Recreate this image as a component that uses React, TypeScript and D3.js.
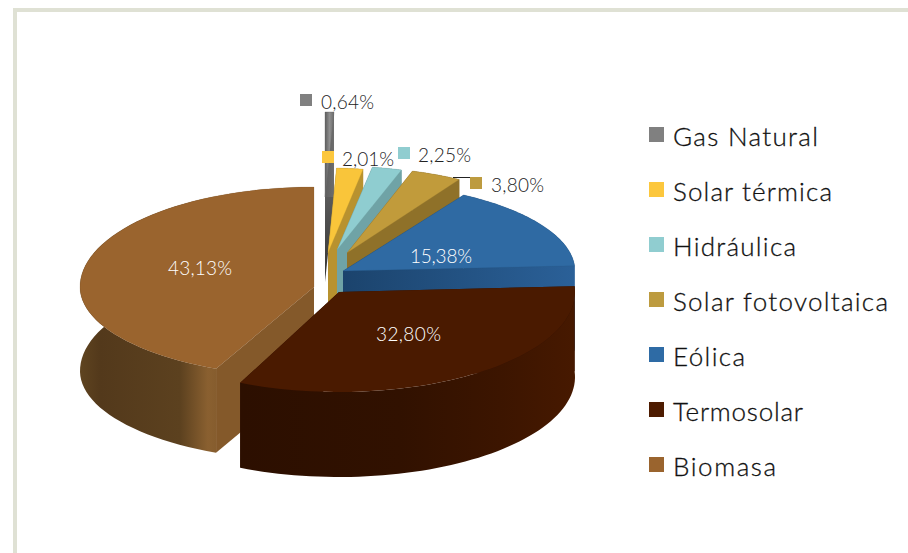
import React from "react";
import * as d3 from "d3";

const categories = ["Gas Natural", "Solar térmica", "Hidráulica", "Solar fotovoltaica", "Eólica", "Termosolar", "Biomasa"];
const shares = [0.64, 2.01, 2.25, 3.8, 15.38, 32.8, 43.13];
const valueLabels = ["0,64%", "2,01%", "2,25%", "3,80%", "15,38%", "32,80%", "43,13%"];

const topColors = ["#8a8a8a", "#f9c53a", "#8fcdd0", "#c19b3b", "#2f6aa3", "#4a1a00", "#9a642e"];
const cutColors = ["#4a4a4a", "#b8922f", "#6fa3a6", "#8f7129", "#1d4a78", "#2e1000", "#84592a"];
const legendColors = ["#808080", "#fcc73d", "#90cdd0", "#bd9b3f", "#2e6ba5", "#4d1b00", "#9a642e"];

// wall shading along x for each slice: [x, colour] stops
const wallStops: [number, string][][] = [
  [[320, "#555555"], [340, "#777777"]],
  [[320, "#b8922f"], [370, "#b8922f"]],
  [[330, "#6fa3a6"], [410, "#6fa3a6"]],
  [[340, "#8f7129"], [470, "#8f7129"]],
  [[340, "#1b436c"], [580, "#2b6199"]],
  [[240, "#2c0f00"], [400, "#311100"], [500, "#3c1500"], [577, "#471900"]],
  [[80, "#5f4420"], [100, "#53391b"], [180, "#5c411f"], [208, "#8a6030"], [240, "#7a5428"]],
];

// geometry of each exploded slice: apex, radius, back / front vertical radius, wall depth
const apexX = [325, 328, 337, 347, 343, 339, 314];
const apexY = [197, 253, 250, 253, 271, 292, 287];
const radius = [224, 212, 213, 216, 232, 236, 234];
const backRy = [85, 85, 84, 86, 89, 100, 100];
const frontRy = [85, 85, 84, 86, 89, 100, 90];
const depth = [85, 85, 85, 85, 85, 85, 84];
const edgeOpacity = [0.6, 0.5, 0.5, 0.5, 0.4, 0, 0.3];
const drawOrder = [0, 1, 2, 3, 4, 6, 5];

const legendWidths = [145, 159, 123, 215, 72, 130, 103];
const legendBaselines = [146, 201, 256, 311, 366, 421, 476];

const labelX = [321, 342, 418, 491, 410, 376, 168];
const labelY = [109, 166, 162, 192, 263, 341, 275];
const labelW = [53, 52, 53, 53, 62, 65, 64];
const labelFill = ["#222", "#222", "#222", "#222", "#fff", "#fff", "#fff"];
const chipX = [300, 322, 398, 470];
const chipY = [94, 151, 147, 177];

const FONT = "Lato, 'Open Sans', sans-serif";

export default function App() {
  const arcs = d3.pie<number>().sort(null).startAngle(0).endAngle(2 * Math.PI)(shares);
  const line = d3.line<[number, number]>().curve(d3.curveLinear);

  const pt = (i: number, a: number, f = 1): [number, number] => {
    const c = Math.cos(a);
    const ry = c > 0 ? backRy[i] : frontRy[i];
    return [apexX[i] + radius[i] * f * Math.sin(a), apexY[i] - ry * f * c];
  };
  const arcPts = (i: number) => {
    const { startAngle: s, endAngle: e } = arcs[i];
    return d3.range(0, 61).map((k) => pt(i, s + ((e - s) * k) / 60));
  };
  const down = (i: number, p: [number, number]): [number, number] => [p[0], p[1] + depth[i]];

  const topPath = (i: number) => line([[apexX[i], apexY[i]], ...arcPts(i)])! + "Z";
  const wallPath = (i: number) => {
    const a = arcPts(i);
    return line([...a, ...a.slice().reverse().map((p) => down(i, p))])! + "Z";
  };
  const cutPath = (i: number, ang: number) => {
    const o: [number, number] = [apexX[i], apexY[i]];
    const e = pt(i, ang);
    return line([o, e, down(i, e), down(i, o)])! + "Z";
  };

  return (
    <svg width={908} height={553} style={{ position: "absolute", left: 0, top: 0, background: "#fff" }}>
      <defs>
        {categories.map((c, i) => {
          const xs = wallStops[i].map((s) => s[0]);
          const x0 = xs[0];
          const x1 = xs[xs.length - 1];
          return (
            <linearGradient key={c} id={`wall${i}`} gradientUnits="userSpaceOnUse" x1={x0} x2={x1} y1={0} y2={0}>
              {wallStops[i].map(([x, col]) => (
                <stop key={x} offset={(x - x0) / (x1 - x0)} stopColor={col} />
              ))}
            </linearGradient>
          );
        })}
        <linearGradient id="gasTop" x1="0" x2="1" y1="0" y2="0">
          <stop offset="0%" stopColor="#5c5c5c" />
          <stop offset="50%" stopColor="#8f8f8f" />
          <stop offset="100%" stopColor="#6a6a6a" />
        </linearGradient>
        <linearGradient id="gasCut" x1="0" x2="0" y1="0" y2="1">
          <stop offset="0%" stopColor="#808080" />
          <stop offset="100%" stopColor="#333333" />
        </linearGradient>
      </defs>

      <rect x={13} y={8} width={4} height={545} fill="#dfe1d4" />
      <rect x={13} y={8} width={895} height={4} fill="#dfe1d4" />

      {drawOrder.map((i) => (
        <g key={categories[i]}>
          <path d={cutPath(i, arcs[i].startAngle)} fill={i === 0 ? "url(#gasCut)" : i === 4 ? "url(#wall4)" : cutColors[i]} />
          <path d={cutPath(i, arcs[i].endAngle)} fill={i === 0 ? "url(#gasCut)" : i === 4 ? "url(#wall4)" : cutColors[i]} />
          <path d={wallPath(i)} fill={`url(#wall${i})`} />
          <path
            d={topPath(i)}
            fill={i === 0 ? "url(#gasTop)" : topColors[i]}
            stroke={d3.color(topColors[i])!.darker(0.7).formatHex()}
            strokeOpacity={edgeOpacity[i]}
            strokeWidth={0.6}
          />
        </g>
      ))}

      <line x1={453} x2={470} y1={177.5} y2={177.5} stroke="#222" strokeWidth={1} />
      {chipX.map((x, i) => (
        <rect key={i} x={x} y={chipY[i]} width={12} height={12} fill={legendColors[i]} />
      ))}
      {valueLabels.map((t, i) => (
        <text
          key={t}
          x={labelX[i]}
          y={labelY[i]}
          fontFamily={FONT}
          fontWeight={300}
          fontSize={19}
          fill={labelFill[i]}
          textLength={labelW[i]}
          lengthAdjust="spacing"
        >
          {t}
        </text>
      ))}

      {categories.map((c, i) => (
        <g key={c}>
          <rect x={649} y={legendBaselines[i] - 19} width={15} height={15} fill={legendColors[i]} />
          <text
            x={673}
            y={legendBaselines[i]}
            fontFamily={FONT}
            fontWeight={300}
            fontSize={26}
            fill="#111"
            stroke="#111"
            strokeWidth={0.3}
            textLength={legendWidths[i]}
            lengthAdjust="spacing"
          >
            {c}
          </text>
        </g>
      ))}
    </svg>
  );
}
